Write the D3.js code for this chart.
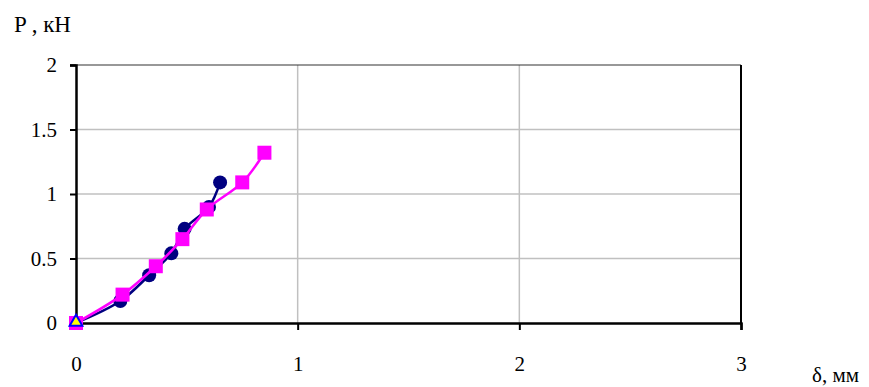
<!DOCTYPE html>
<html>
<head>
<meta charset="utf-8">
<script src="https://cdn.jsdelivr.net/npm/d3@7"></script>
<style>
  html, body { margin: 0; padding: 0; background: #fff; }
  svg { display: block; }
  text { font-family: "Liberation Serif", "Times New Roman", serif; fill: #000; }
</style>
</head>
<body>
<svg id="chart" width="869" height="387"></svg>
<script>
// Load–deflection data: δ in mm, P in kN
const seriesA = [ // navy circles
  [0, 0], [0.20, 0.17], [0.33, 0.37], [0.43, 0.54], [0.49, 0.73], [0.60, 0.90], [0.65, 1.09]
];
const seriesB = [ // magenta squares
  [0, 0], [0.21, 0.22], [0.36, 0.44], [0.48, 0.65], [0.59, 0.88], [0.75, 1.09], [0.85, 1.32]
];
const seriesC = [ // yellow triangle
  [0, 0]
];
const xTicks = [0, 1, 2, 3];
const yTicks = [0, 0.5, 1, 1.5, 2];
const yTickLabels = ["0", "0.5", "1", "1.5", "2"];

const svg = d3.select("#chart");
const plotLeft = 76, plotRight = 741, plotTop = 65, plotBottom = 323;

const x = d3.scaleLinear().domain([0, 3]).range([plotLeft, plotRight]);
const y = d3.scaleLinear().domain([0, 2]).range([plotBottom, plotTop]);

// gridlines
svg.append("g").selectAll("line")
  .data(yTicks.filter(v => v > 0 && v < 2))
  .join("line")
  .attr("x1", plotLeft).attr("x2", plotRight)
  .attr("y1", d => y(d)).attr("y2", d => y(d))
  .attr("stroke", "#c0c0c0").attr("stroke-width", 1.5);
svg.append("g").selectAll("line")
  .data(xTicks.filter(v => v > 0 && v < 3))
  .join("line")
  .attr("x1", d => x(d)).attr("x2", d => x(d))
  .attr("y1", plotTop).attr("y2", plotBottom)
  .attr("stroke", "#c0c0c0").attr("stroke-width", 1.5);

// plot frame: top and right
svg.append("line").attr("x1", plotLeft - 6).attr("x2", plotRight)
  .attr("y1", plotTop).attr("y2", plotTop)
  .attr("stroke", "#333").attr("stroke-width", 1.2);
svg.append("line").attr("x1", plotRight).attr("x2", plotRight)
  .attr("y1", plotTop).attr("y2", plotBottom)
  .attr("stroke", "#000").attr("stroke-width", 2);

// axes
const xAxis = d3.axisBottom(x).tickValues(xTicks).tickSize(7).tickPadding(26)
  .tickFormat(d3.format("d"));
const gx = svg.append("g").attr("transform", `translate(0,${plotBottom})`).call(xAxis);
gx.select(".domain").attr("stroke", "#000").attr("stroke-width", 2.5);
gx.selectAll(".tick line").attr("stroke", "#000").attr("stroke-width", 2);
gx.selectAll(".tick text").attr("font-size", 21)
  .style("font-family", "'Liberation Serif', serif");

const yAxis = d3.axisLeft(y).tickValues(yTicks).tickSize(6).tickPadding(13)
  .tickFormat((d, i) => yTickLabels[i]);
const gy = svg.append("g").attr("transform", `translate(${plotLeft},0)`).call(yAxis);
gy.select(".domain").attr("stroke", "#000").attr("stroke-width", 2.5);
gy.selectAll(".tick line").attr("stroke", "#000").attr("stroke-width", 2);
gy.selectAll(".tick text").attr("font-size", 21)
  .style("font-family", "'Liberation Serif', serif");

// axis titles
svg.append("text").attr("x", 14).attr("y", 32).attr("font-size", 23).text("P , кН");
svg.append("text").attr("x", 812).attr("y", 382).attr("font-size", 21).text("δ, мм");

// curves
const line = d3.line().x(d => x(d[0])).y(d => y(d[1])).curve(d3.curveCatmullRom.alpha(0.5));

svg.append("path").datum(seriesA).attr("d", line)
  .attr("fill", "none").attr("stroke", "#000080").attr("stroke-width", 2.5);
svg.append("g").selectAll("circle").data(seriesA.slice(1)).join("circle")
  .attr("cx", d => x(d[0])).attr("cy", d => y(d[1])).attr("r", 7)
  .attr("fill", "#000080");

svg.append("path").datum(seriesB).attr("d", line)
  .attr("fill", "none").attr("stroke", "#ff00ff").attr("stroke-width", 2.5);
svg.append("g").selectAll("rect").data(seriesB).join("rect")
  .attr("x", d => x(d[0]) - 7).attr("y", d => y(d[1]) - 7)
  .attr("width", 14).attr("height", 14)
  .attr("fill", "#ff00ff");

// single triangle marker
const tri = d3.symbol().type(d3.symbolTriangle).size(70);
svg.append("g").selectAll("path").data(seriesC).join("path")
  .attr("d", tri)
  .attr("transform", d => `translate(${x(d[0])},${y(d[1]) - 1})`)
  .attr("fill", "#ffff00").attr("stroke", "#0000ff").attr("stroke-width", 2);
</script>
</body>
</html>
